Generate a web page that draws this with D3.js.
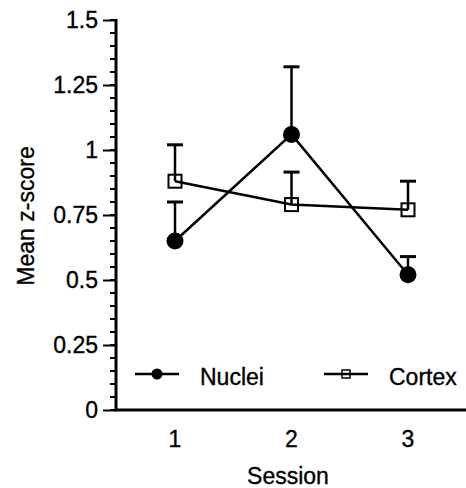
<!DOCTYPE html>
<html>
<head>
<meta charset="utf-8">
<title>Mean z-score by session</title>
<script src="https://cdn.jsdelivr.net/npm/d3@7"></script>
<style>
body { margin: 0; background: #fff; }
text { font-family: "Liberation Sans", Arial, sans-serif; fill: #000; stroke: #000; stroke-width: 0.35px; }
</style>
</head>
<body>
<script>
var sessions = [1, 2, 3];
var nucleiMean = [0.65, 1.06, 0.52];
var nucleiErr = [0.15, 0.26, 0.07];
var cortexMean = [0.88, 0.79, 0.77];
var cortexErr = [0.14, 0.125, 0.11];
var yTicks = [0, 0.25, 0.5, 0.75, 1, 1.25, 1.5];
var yMinor = d3.range(0, 1.5001, 0.05);

var w = 466,
    h = 488;

var svg = d3.select("body")
            .append("svg")
            .attr("width", w)
            .attr("height", h);

var x = d3.scaleLinear().domain([1, 3]).range([175, 408]);
var y = d3.scaleLinear().domain([0, 1.5]).range([410, 20]);

// y axis with major and minor ticks
var yAxis = d3.axisLeft(y)
              .tickValues(yTicks)
              .tickFormat(function(d) { return String(d); })
              .tickSize(13)
              .tickPadding(5);

var gy = svg.append("g")
            .attr("transform", "translate(116,0)")
            .call(yAxis);
gy.select(".domain").remove();
gy.selectAll(".tick line").attr("stroke", "#000").attr("stroke-width", 2);
gy.selectAll(".tick text")
  .style("font-size", "23px")
  .attr("font-family", null);

svg.append("g").selectAll("line")
   .data(yMinor)
   .enter()
   .append("line")
   .attr("x1", 110)
   .attr("x2", 116)
   .attr("y1", function(d) { return y(d); })
   .attr("y2", function(d) { return y(d); })
   .attr("stroke", "#000")
   .attr("stroke-width", 2);

svg.append("line")
   .attr("x1", 116).attr("x2", 116)
   .attr("y1", y(1.5) - 1).attr("y2", y(0) + 1)
   .attr("stroke", "#000").attr("stroke-width", 3);

svg.append("line")
   .attr("x1", 115).attr("x2", w)
   .attr("y1", y(0)).attr("y2", y(0))
   .attr("stroke", "#000").attr("stroke-width", 3);

// x labels, no tick marks
svg.append("g").selectAll("text")
   .data(sessions)
   .enter()
   .append("text")
   .attr("x", function(d) { return x(d); })
   .attr("y", 447)
   .attr("text-anchor", "middle")
   .style("font-size", "23px")
   .text(function(d) { return d; });

svg.append("text")
   .attr("x", 288)
   .attr("y", 484)
   .attr("text-anchor", "middle")
   .style("font-size", "23px")
   .text("Session");

svg.append("text")
   .attr("transform", "translate(34,216) rotate(-90)")
   .attr("text-anchor", "middle")
   .style("font-size", "23px")
   .text("Mean z-score");

var line = d3.line()
             .x(function(d, i) { return x(sessions[i]); })
             .y(function(d) { return y(d); });

function errorBars(means, errs) {
  var g = svg.append("g");
  g.selectAll("line.bar")
   .data(means)
   .enter()
   .append("line")
   .attr("x1", function(d, i) { return x(sessions[i]); })
   .attr("x2", function(d, i) { return x(sessions[i]); })
   .attr("y1", function(d) { return y(d); })
   .attr("y2", function(d, i) { return y(d + errs[i]); })
   .attr("stroke", "#000")
   .attr("stroke-width", 2.5);
  g.selectAll("line.cap")
   .data(means)
   .enter()
   .append("line")
   .attr("x1", function(d, i) { return x(sessions[i]) - 8; })
   .attr("x2", function(d, i) { return x(sessions[i]) + 8; })
   .attr("y1", function(d, i) { return y(d + errs[i]); })
   .attr("y2", function(d, i) { return y(d + errs[i]); })
   .attr("stroke", "#000")
   .attr("stroke-width", 3);
}

errorBars(cortexMean, cortexErr);
errorBars(nucleiMean, nucleiErr);

svg.append("path")
   .attr("d", line(cortexMean))
   .attr("fill", "none")
   .attr("stroke", "#000")
   .attr("stroke-width", 2.5);

svg.append("path")
   .attr("d", line(nucleiMean))
   .attr("fill", "none")
   .attr("stroke", "#000")
   .attr("stroke-width", 2.5);

svg.selectAll("rect.cortex")
   .data(cortexMean)
   .enter()
   .append("rect")
   .attr("x", function(d, i) { return x(sessions[i]) - 6.5; })
   .attr("y", function(d) { return y(d) - 6.5; })
   .attr("width", 13)
   .attr("height", 13)
   .attr("fill", "none")
   .attr("stroke", "#000")
   .attr("stroke-width", 2);

svg.selectAll("circle.nuclei")
   .data(nucleiMean)
   .enter()
   .append("circle")
   .attr("cx", function(d, i) { return x(sessions[i]); })
   .attr("cy", function(d) { return y(d); })
   .attr("r", 8.5)
   .attr("fill", "#000");

// legend
var leg = svg.append("g");
leg.append("line").attr("x1", 135).attr("x2", 179).attr("y1", 374).attr("y2", 374)
   .attr("stroke", "#000").attr("stroke-width", 2.5);
leg.append("circle").attr("cx", 157).attr("cy", 374).attr("r", 5.5).attr("fill", "#000");
leg.append("text").attr("x", 200).attr("y", 385).style("font-size", "23px").text("Nuclei");

leg.append("line").attr("x1", 324).attr("x2", 368).attr("y1", 374).attr("y2", 374)
   .attr("stroke", "#000").attr("stroke-width", 2.5);
leg.append("rect").attr("x", 342).attr("y", 370).attr("width", 8).attr("height", 8)
   .attr("fill", "none").attr("stroke", "#000").attr("stroke-width", 1.5);
leg.append("text").attr("x", 389).attr("y", 385).style("font-size", "23px").text("Cortex");
</script>
</body>
</html>
